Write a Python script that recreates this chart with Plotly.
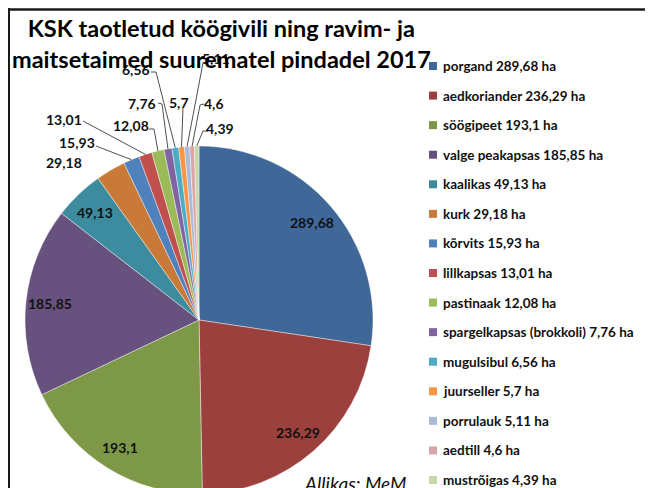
import math
import plotly.graph_objects as go

# ---------------- data ----------------
categories = ["porgand", "aedkoriander", "söögipeet", "valge peakapsas", "kaalikas",
              "kurk", "kõrvits", "lillkapsas", "pastinaak", "spargelkapsas (brokkoli)",
              "mugulsibul", "juurseller", "porrulauk", "aedtill", "mustrõigas"]
values = [289.68, 236.29, 193.1, 185.85, 49.13, 29.18, 15.93, 13.01, 12.08, 7.76,
          6.56, 5.7, 5.11, 4.6, 4.39]
unit = "ha"
title_lines = ["KSK taotletud köögivili ning ravim- ja", "maitsetaimed suurematel pindadel 2017"]
source_text = "Allikas: MeM"

# ---------------- styling ----------------
colors = ["#3F6898", "#9C403E", "#7D9847", "#67517F", "#3C8B9F", "#C97A38",
          "#4F81BD", "#C0504D", "#9BBB59", "#8064A2", "#4BACC6", "#F79646",
          "#A9BADA", "#DBA7A6", "#C8D7AA"]
FONT = "Lato"
W, H = 653, 488
OFF = 8  # page offset of the figure (browser body margin)


def px(x):
    return (x - OFF) / W


def py(y):
    return 1 - (y - OFF) / H


def fmt(v):
    return f"{v:g}".replace(".", ",")


R = 174
CX = 199
CY = 320

fig = go.Figure(go.Pie(
    labels=categories, values=values, sort=False, direction="clockwise", rotation=0,
    marker=dict(colors=colors, line=dict(color="rgba(255,255,255,0.7)", width=0.6)),
    textinfo="none", hoverinfo="label+value", showlegend=False,
    domain=dict(x=[px(CX - R), px(CX + R)], y=[py(CY + R), py(CY - R)]),
))

total = sum(values)
mid_angles = []
cum = 0
for v in values:
    mid_angles.append((cum + v / 2) / total * 2 * math.pi)
    cum += v


def polar(ang, r):
    return CX + r * math.sin(ang), CY - r * math.cos(ang)


annotations = []
shapes = []
label_font = dict(family=FONT, size=14, color="#111111")

# inside labels
for i in range(5):
    x, y = polar(mid_angles[i], 0.86 * R)
    annotations.append(dict(x=px(x), y=py(y), xref="paper", yref="paper",
                            text=f"<b>{fmt(values[i])}</b>", showarrow=False,
                            xanchor="center", yanchor="middle", font=label_font))

# outside labels: text centre, leader start, optional elbow (page pixels)
outside = {
    5: ((64, 162), None, None),
    6: ((77, 142), (96, 146), None),
    7: ((64, 119), (83, 121), None),
    8: ((131, 125), (149, 129), (154, 129)),
    9: ((142, 103), (158, 103), (162, 104)),
    10: ((136, 70), (151, 72), (156, 72)),
    11: ((179, 102), (183, 108), None),
    12: ((216, 58), (203, 63), None),
    13: ((214, 103), (204, 104), (200, 105)),
    14: ((220, 128), (208, 131), (203, 131)),
}
for i, (tc, start, elbow) in outside.items():
    annotations.append(dict(x=px(tc[0]), y=py(tc[1]), xref="paper", yref="paper",
                            text=f"<b>{fmt(values[i])}</b>", showarrow=False,
                            xanchor="center", yanchor="middle", font=label_font))
    if start is not None:
        ex, ey = polar(mid_angles[i], R)
        pts = [start] + ([elbow] if elbow else []) + [(ex, ey)]
        path = "M " + " L ".join(f"{px(a):.5f},{py(b):.5f}" for a, b in pts)
        shapes.append(dict(type="path", xref="paper", yref="paper", path=path,
                           line=dict(color="#222222", width=0.8)))

# legend (manual)
LEG_Y0, LEG_STEP = 66, 29.57
for k, (name, v, c) in enumerate(zip(categories, values, colors)):
    yk = LEG_Y0 + LEG_STEP * k
    shapes.append(dict(type="rect", xref="paper", yref="paper",
                       x0=px(429), x1=px(437), y0=py(yk + 4), y1=py(yk - 4),
                       fillcolor=c, line=dict(width=0)))
    annotations.append(dict(x=px(441), y=py(yk), xref="paper", yref="paper",
                            text=f"<b>{name} {fmt(v)} {unit}</b>", showarrow=False,
                            xanchor="left", yanchor="middle",
                            font=dict(family=FONT, size=13.5, color="#111111")))

# source
annotations.append(dict(x=px(355), y=py(470), xref="paper", yref="paper",
                        text=f"<i>{source_text}</i>", showarrow=False,
                        xanchor="center", yanchor="top",
                        font=dict(family=FONT, size=19, color="#111111")))

# title on top
annotations.append(dict(x=px(221), y=py(43), xref="paper", yref="paper",
                        text="<b>" + "<br>".join(title_lines) + "</b>", showarrow=False,
                        xanchor="center", yanchor="middle",
                        font=dict(family=FONT, size=23.5, color="#000000")))

# frame
shapes.append(dict(type="line", xref="paper", yref="paper", x0=px(9), x1=px(9),
                   y0=py(8), y1=py(H + 20), line=dict(color="#1a1a1a", width=2)))
shapes.append(dict(type="line", xref="paper", yref="paper", x0=px(8), x1=px(W + 20),
                   y0=py(9.5), y1=py(9.5), line=dict(color="#1a1a1a", width=2.5)))

fig.update_layout(width=W, height=H, margin=dict(l=0, r=0, t=0, b=0),
                  paper_bgcolor="white", plot_bgcolor="white",
                  annotations=annotations, shapes=shapes, showlegend=False)

fig.write_html("out.html")
